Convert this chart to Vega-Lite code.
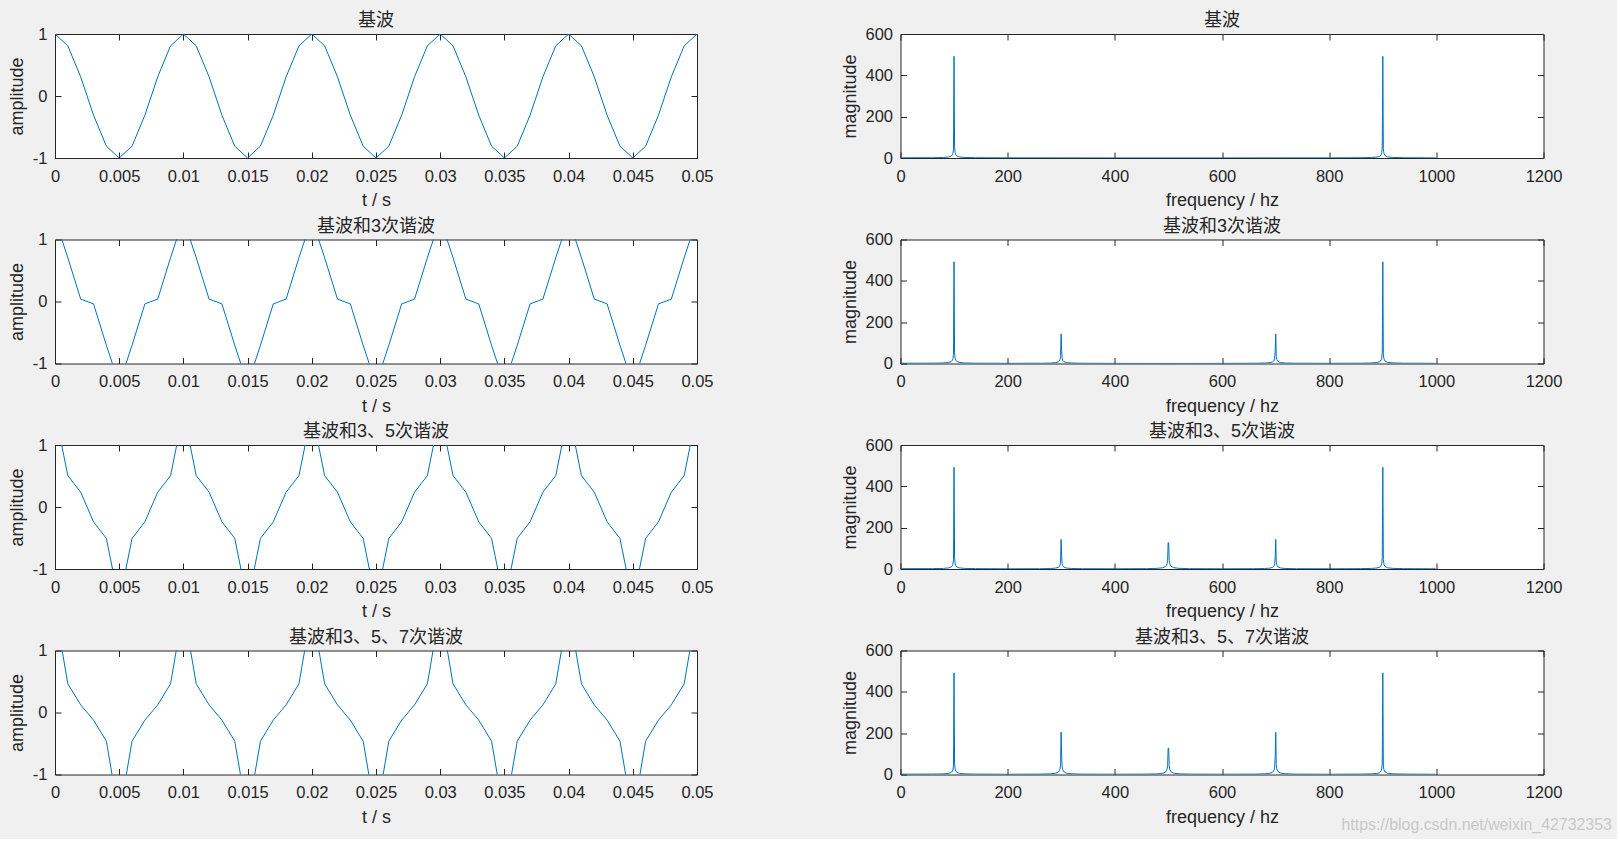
{
  "$schema": "https://vega.github.io/schema/vega-lite/v6.json",
  "background": "#f0f0f0",
  "padding": {"left": 8, "top": 11, "right": 5, "bottom": 5},
  "bounds": "flush",
  "columns": 2,
  "spacing": {"row": 81.5, "column": 203.5},
  "title": {"text": "https://blog.csdn.net/weixin_42732353", "orient": "bottom", "anchor": "end", "frame": "bounds", "font": "Liberation Sans", "fontSize": 15.9, "fontWeight": "normal", "color": "#c8c8c8", "offset": -9.3, "dx": 49.5},
  "datasets": {
    "wave": [
      {"t": 0, "a1": 1, "a2": 1.333, "a3": 1.533, "a4": 1.676},
      {"t": 0.001, "a1": 0.809, "a2": 0.706, "a3": 0.506, "a4": 0.462},
      {"t": 0.002, "a1": 0.309, "a2": 0.039, "a3": 0.239, "a4": 0.123},
      {"t": 0.003, "a1": -0.309, "a2": -0.039, "a3": -0.239, "a4": -0.123},
      {"t": 0.004, "a1": -0.809, "a2": -0.706, "a3": -0.506, "a4": -0.462},
      {"t": 0.005, "a1": -1, "a2": -1.333, "a3": -1.533, "a4": -1.676},
      {"t": 0.006, "a1": -0.809, "a2": -0.706, "a3": -0.506, "a4": -0.462},
      {"t": 0.007, "a1": -0.309, "a2": -0.039, "a3": -0.239, "a4": -0.123},
      {"t": 0.008, "a1": 0.309, "a2": 0.039, "a3": 0.239, "a4": 0.123},
      {"t": 0.009, "a1": 0.809, "a2": 0.706, "a3": 0.506, "a4": 0.462},
      {"t": 0.010, "a1": 1, "a2": 1.333, "a3": 1.533, "a4": 1.676},
      {"t": 0.011, "a1": 0.809, "a2": 0.706, "a3": 0.506, "a4": 0.462},
      {"t": 0.012, "a1": 0.309, "a2": 0.039, "a3": 0.239, "a4": 0.123},
      {"t": 0.013, "a1": -0.309, "a2": -0.039, "a3": -0.239, "a4": -0.123},
      {"t": 0.014, "a1": -0.809, "a2": -0.706, "a3": -0.506, "a4": -0.462},
      {"t": 0.015, "a1": -1, "a2": -1.333, "a3": -1.533, "a4": -1.676},
      {"t": 0.016, "a1": -0.809, "a2": -0.706, "a3": -0.506, "a4": -0.462},
      {"t": 0.017, "a1": -0.309, "a2": -0.039, "a3": -0.239, "a4": -0.123},
      {"t": 0.018, "a1": 0.309, "a2": 0.039, "a3": 0.239, "a4": 0.123},
      {"t": 0.019, "a1": 0.809, "a2": 0.706, "a3": 0.506, "a4": 0.462},
      {"t": 0.020, "a1": 1, "a2": 1.333, "a3": 1.533, "a4": 1.676},
      {"t": 0.021, "a1": 0.809, "a2": 0.706, "a3": 0.506, "a4": 0.462},
      {"t": 0.022, "a1": 0.309, "a2": 0.039, "a3": 0.239, "a4": 0.123},
      {"t": 0.023, "a1": -0.309, "a2": -0.039, "a3": -0.239, "a4": -0.123},
      {"t": 0.024, "a1": -0.809, "a2": -0.706, "a3": -0.506, "a4": -0.462},
      {"t": 0.025, "a1": -1, "a2": -1.333, "a3": -1.533, "a4": -1.676},
      {"t": 0.026, "a1": -0.809, "a2": -0.706, "a3": -0.506, "a4": -0.462},
      {"t": 0.027, "a1": -0.309, "a2": -0.039, "a3": -0.239, "a4": -0.123},
      {"t": 0.028, "a1": 0.309, "a2": 0.039, "a3": 0.239, "a4": 0.123},
      {"t": 0.029, "a1": 0.809, "a2": 0.706, "a3": 0.506, "a4": 0.462},
      {"t": 0.030, "a1": 1, "a2": 1.333, "a3": 1.533, "a4": 1.676},
      {"t": 0.031, "a1": 0.809, "a2": 0.706, "a3": 0.506, "a4": 0.462},
      {"t": 0.032, "a1": 0.309, "a2": 0.039, "a3": 0.239, "a4": 0.123},
      {"t": 0.033, "a1": -0.309, "a2": -0.039, "a3": -0.239, "a4": -0.123},
      {"t": 0.034, "a1": -0.809, "a2": -0.706, "a3": -0.506, "a4": -0.462},
      {"t": 0.035, "a1": -1, "a2": -1.333, "a3": -1.533, "a4": -1.676},
      {"t": 0.036, "a1": -0.809, "a2": -0.706, "a3": -0.506, "a4": -0.462},
      {"t": 0.037, "a1": -0.309, "a2": -0.039, "a3": -0.239, "a4": -0.123},
      {"t": 0.038, "a1": 0.309, "a2": 0.039, "a3": 0.239, "a4": 0.123},
      {"t": 0.039, "a1": 0.809, "a2": 0.706, "a3": 0.506, "a4": 0.462},
      {"t": 0.040, "a1": 1, "a2": 1.333, "a3": 1.533, "a4": 1.676},
      {"t": 0.041, "a1": 0.809, "a2": 0.706, "a3": 0.506, "a4": 0.462},
      {"t": 0.042, "a1": 0.309, "a2": 0.039, "a3": 0.239, "a4": 0.123},
      {"t": 0.043, "a1": -0.309, "a2": -0.039, "a3": -0.239, "a4": -0.123},
      {"t": 0.044, "a1": -0.809, "a2": -0.706, "a3": -0.506, "a4": -0.462},
      {"t": 0.045, "a1": -1, "a2": -1.333, "a3": -1.533, "a4": -1.676},
      {"t": 0.046, "a1": -0.809, "a2": -0.706, "a3": -0.506, "a4": -0.462},
      {"t": 0.047, "a1": -0.309, "a2": -0.039, "a3": -0.239, "a4": -0.123},
      {"t": 0.048, "a1": 0.309, "a2": 0.039, "a3": 0.239, "a4": 0.123},
      {"t": 0.049, "a1": 0.809, "a2": 0.706, "a3": 0.506, "a4": 0.462},
      {"t": 0.050, "a1": 1, "a2": 1.333, "a3": 1.533, "a4": 1.676}
    ],
    "spec1": [
      {"f": 0, "m": 1.0}, {"f": 59.9, "m": 1.3}, {"f": 79.9, "m": 2.4}, {"f": 89.9, "m": 4.9}, {"f": 94.9, "m": 9.6}, {"f": 96.9, "m": 15.9}, {"f": 97.9, "m": 23.4}, {"f": 98.9, "m": 44.7}, {"f": 99.9, "m": 492}, {"f": 100.9, "m": 54.7}, {"f": 101.9, "m": 25.9}, {"f": 102.9, "m": 17.0}, {"f": 104.9, "m": 10.0}, {"f": 109.9, "m": 5.0}, {"f": 119.9, "m": 2.5}, {"f": 139.9, "m": 1.3},
      {"f": 199.8, "m": 0.6}, {"f": 399.6, "m": 0.3}, {"f": 599.4, "m": 0.3}, {"f": 799.2, "m": 0.6},
      {"f": 859.1, "m": 1.3}, {"f": 879.1, "m": 2.4}, {"f": 889.1, "m": 4.5}, {"f": 894.1, "m": 8.3}, {"f": 896.1, "m": 12.6}, {"f": 897.1, "m": 17.0}, {"f": 898.1, "m": 25.9}, {"f": 899.1, "m": 54.7}, {"f": 900.1, "m": 492}, {"f": 901.1, "m": 44.7}, {"f": 902.1, "m": 23.4}, {"f": 904.1, "m": 12.0}, {"f": 909.1, "m": 5.4}, {"f": 919.1, "m": 2.6}, {"f": 939.1, "m": 1.3}, {"f": 999.0, "m": 0.5}
    ],
    "spec2": [
      {"f": 0, "m": 1.2}, {"f": 59.9, "m": 1.6}, {"f": 79.9, "m": 2.6}, {"f": 89.9, "m": 5.1}, {"f": 94.9, "m": 9.8}, {"f": 96.9, "m": 16.1}, {"f": 97.9, "m": 23.6}, {"f": 98.9, "m": 44.9}, {"f": 99.9, "m": 492}, {"f": 100.9, "m": 54.9}, {"f": 101.9, "m": 26.1}, {"f": 102.9, "m": 17.2}, {"f": 104.9, "m": 10.2}, {"f": 109.9, "m": 5.2}, {"f": 119.9, "m": 2.7}, {"f": 139.9, "m": 1.5},
      {"f": 199.8, "m": 0.9},
      {"f": 259.7, "m": 1.1}, {"f": 279.7, "m": 2.1}, {"f": 289.7, "m": 4.2}, {"f": 294.7, "m": 8.1}, {"f": 296.7, "m": 13.0}, {"f": 297.7, "m": 18.7}, {"f": 298.7, "m": 33.0}, {"f": 299.7, "m": 143.2}, {"f": 300.7, "m": 61.4}, {"f": 301.7, "m": 25.3}, {"f": 302.7, "m": 15.9}, {"f": 304.7, "m": 9.1}, {"f": 309.7, "m": 4.4}, {"f": 319.7, "m": 2.2}, {"f": 339.7, "m": 1.1},
      {"f": 399.6, "m": 0.6}, {"f": 499.5, "m": 0.4}, {"f": 599.4, "m": 0.6},
      {"f": 659.3, "m": 1.1}, {"f": 679.3, "m": 2.1}, {"f": 689.3, "m": 4.0}, {"f": 694.3, "m": 7.5}, {"f": 696.3, "m": 11.6}, {"f": 697.3, "m": 15.9}, {"f": 698.3, "m": 25.3}, {"f": 699.3, "m": 61.4}, {"f": 700.3, "m": 143.2}, {"f": 701.3, "m": 33.0}, {"f": 702.3, "m": 18.7}, {"f": 704.3, "m": 10.0}, {"f": 709.3, "m": 4.6}, {"f": 719.3, "m": 2.2}, {"f": 739.3, "m": 1.1},
      {"f": 799.2, "m": 0.9},
      {"f": 859.1, "m": 1.5}, {"f": 879.1, "m": 2.6}, {"f": 889.1, "m": 4.7}, {"f": 894.1, "m": 8.5}, {"f": 896.1, "m": 12.8}, {"f": 897.1, "m": 17.2}, {"f": 898.1, "m": 26.1}, {"f": 899.1, "m": 54.9}, {"f": 900.1, "m": 492}, {"f": 901.1, "m": 44.9}, {"f": 902.1, "m": 23.6}, {"f": 904.1, "m": 12.2}, {"f": 909.1, "m": 5.6}, {"f": 919.1, "m": 2.8}, {"f": 939.1, "m": 1.5}, {"f": 999.0, "m": 0.7}
    ],
    "spec3": [
      {"f": 0, "m": 1.4}, {"f": 59.9, "m": 1.8}, {"f": 79.9, "m": 2.8}, {"f": 89.9, "m": 5.3}, {"f": 94.9, "m": 10.0}, {"f": 96.9, "m": 16.3}, {"f": 97.9, "m": 23.8}, {"f": 98.9, "m": 45.1}, {"f": 99.9, "m": 492}, {"f": 100.9, "m": 55.1}, {"f": 101.9, "m": 26.3}, {"f": 102.9, "m": 17.4}, {"f": 104.9, "m": 10.4}, {"f": 109.9, "m": 5.4}, {"f": 119.9, "m": 2.9}, {"f": 139.9, "m": 1.7},
      {"f": 199.8, "m": 1.0},
      {"f": 259.7, "m": 1.3}, {"f": 279.7, "m": 2.3}, {"f": 289.7, "m": 4.4}, {"f": 294.7, "m": 8.3}, {"f": 296.7, "m": 13.2}, {"f": 297.7, "m": 18.9}, {"f": 298.7, "m": 33.2}, {"f": 299.7, "m": 143.2}, {"f": 300.7, "m": 61.6}, {"f": 301.7, "m": 25.5}, {"f": 302.7, "m": 16.1}, {"f": 304.7, "m": 9.3}, {"f": 309.7, "m": 4.6}, {"f": 319.7, "m": 2.4}, {"f": 339.7, "m": 1.4},
      {"f": 399.6, "m": 1.1},
      {"f": 459.5, "m": 1.7}, {"f": 479.5, "m": 3.2}, {"f": 489.5, "m": 6.1}, {"f": 494.5, "m": 11.6}, {"f": 496.5, "m": 18.2}, {"f": 497.5, "m": 25.5}, {"f": 498.5, "m": 42.5}, {"f": 499.5, "m": 127.4}, {"f": 500.5, "m": 127.4}, {"f": 501.5, "m": 42.5}, {"f": 502.5, "m": 25.5}, {"f": 504.5, "m": 14.2}, {"f": 509.5, "m": 6.7}, {"f": 519.5, "m": 3.3}, {"f": 539.5, "m": 1.7},
      {"f": 599.4, "m": 1.1},
      {"f": 659.3, "m": 1.4}, {"f": 679.3, "m": 2.3}, {"f": 689.3, "m": 4.2}, {"f": 694.3, "m": 7.7}, {"f": 696.3, "m": 11.8}, {"f": 697.3, "m": 16.1}, {"f": 698.3, "m": 25.5}, {"f": 699.3, "m": 61.6}, {"f": 700.3, "m": 143.2}, {"f": 701.3, "m": 33.2}, {"f": 702.3, "m": 18.9}, {"f": 704.3, "m": 10.2}, {"f": 709.3, "m": 4.8}, {"f": 719.3, "m": 2.4}, {"f": 739.3, "m": 1.3},
      {"f": 799.2, "m": 1.0},
      {"f": 859.1, "m": 1.7}, {"f": 879.1, "m": 2.8}, {"f": 889.1, "m": 4.9}, {"f": 894.1, "m": 8.7}, {"f": 896.1, "m": 13.0}, {"f": 897.1, "m": 17.4}, {"f": 898.1, "m": 26.3}, {"f": 899.1, "m": 55.1}, {"f": 900.1, "m": 492}, {"f": 901.1, "m": 45.1}, {"f": 902.1, "m": 23.8}, {"f": 904.1, "m": 12.4}, {"f": 909.1, "m": 5.8}, {"f": 919.1, "m": 3.0}, {"f": 939.1, "m": 1.7}, {"f": 999.0, "m": 0.9}
    ],
    "spec4": [
      {"f": 0, "m": 1.6}, {"f": 59.9, "m": 2.0}, {"f": 79.9, "m": 3.0}, {"f": 89.9, "m": 5.5}, {"f": 94.9, "m": 10.2}, {"f": 96.9, "m": 16.5}, {"f": 97.9, "m": 24.0}, {"f": 98.9, "m": 45.3}, {"f": 99.9, "m": 492}, {"f": 100.9, "m": 55.3}, {"f": 101.9, "m": 26.5}, {"f": 102.9, "m": 17.6}, {"f": 104.9, "m": 10.6}, {"f": 109.9, "m": 5.6}, {"f": 119.9, "m": 3.1}, {"f": 139.9, "m": 1.9},
      {"f": 199.8, "m": 1.2},
      {"f": 259.7, "m": 1.8}, {"f": 279.7, "m": 3.2}, {"f": 289.7, "m": 6.2}, {"f": 294.7, "m": 11.8}, {"f": 296.7, "m": 18.8}, {"f": 297.7, "m": 26.9}, {"f": 298.7, "m": 47.3}, {"f": 299.7, "m": 204.5}, {"f": 300.7, "m": 87.9}, {"f": 301.7, "m": 36.3}, {"f": 302.7, "m": 22.9}, {"f": 304.7, "m": 13.2}, {"f": 309.7, "m": 6.5}, {"f": 319.7, "m": 3.3}, {"f": 339.7, "m": 1.8},
      {"f": 399.6, "m": 1.3},
      {"f": 459.5, "m": 1.8}, {"f": 479.5, "m": 3.3}, {"f": 489.5, "m": 6.2}, {"f": 494.5, "m": 11.7}, {"f": 496.5, "m": 18.3}, {"f": 497.5, "m": 25.6}, {"f": 498.5, "m": 42.6}, {"f": 499.5, "m": 127.4}, {"f": 500.5, "m": 127.4}, {"f": 501.5, "m": 42.6}, {"f": 502.5, "m": 25.6}, {"f": 504.5, "m": 14.3}, {"f": 509.5, "m": 6.8}, {"f": 519.5, "m": 3.4}, {"f": 539.5, "m": 1.8},
      {"f": 599.4, "m": 1.3},
      {"f": 659.3, "m": 1.8}, {"f": 679.3, "m": 3.2}, {"f": 689.3, "m": 5.9}, {"f": 694.3, "m": 10.9}, {"f": 696.3, "m": 16.8}, {"f": 697.3, "m": 22.9}, {"f": 698.3, "m": 36.3}, {"f": 699.3, "m": 87.9}, {"f": 700.3, "m": 204.5}, {"f": 701.3, "m": 47.3}, {"f": 702.3, "m": 26.9}, {"f": 704.3, "m": 14.5}, {"f": 709.3, "m": 6.8}, {"f": 719.3, "m": 3.3}, {"f": 739.3, "m": 1.8},
      {"f": 799.2, "m": 1.2},
      {"f": 859.1, "m": 1.9}, {"f": 879.1, "m": 3.0}, {"f": 889.1, "m": 5.1}, {"f": 894.1, "m": 8.9}, {"f": 896.1, "m": 13.2}, {"f": 897.1, "m": 17.6}, {"f": 898.1, "m": 26.5}, {"f": 899.1, "m": 55.3}, {"f": 900.1, "m": 492}, {"f": 901.1, "m": 45.3}, {"f": 902.1, "m": 24.0}, {"f": 904.1, "m": 12.6}, {"f": 909.1, "m": 6.0}, {"f": 919.1, "m": 3.2}, {"f": 939.1, "m": 1.9}, {"f": 999.0, "m": 1.1}
    ]
  },
  "concat": [
    {
      "width": 642, "height": 124, "title": "基波", "data": {"name": "wave"},
      "layer": [
        {"mark": {"type": "line", "clip": true, "color": "#0072BD", "strokeWidth": 1},
         "encoding": {
           "x": {"field": "t", "type": "quantitative", "scale": {"domain": [0, 0.05], "nice": false, "zero": false}, "axis": {"title": "t / s", "values": [0, 0.005, 0.01, 0.015, 0.02, 0.025, 0.03, 0.035, 0.04, 0.045, 0.05], "format": "~g"}},
           "y": {"field": "a1", "type": "quantitative", "scale": {"domain": [-1, 1], "nice": false, "zero": false}, "axis": {"title": "amplitude", "values": [-1, 0, 1], "format": "~g", "labelExpr": "datum.value < 0 ? '-1' : datum.label"}}}},
        {"mark": {"type": "line", "clip": true, "opacity": 0},
         "encoding": {
           "x": {"field": "t", "type": "quantitative", "axis": {"orient": "top", "labels": false, "title": null, "values": [0, 0.005, 0.01, 0.015, 0.02, 0.025, 0.03, 0.035, 0.04, 0.045, 0.05]}},
           "y": {"field": "a1", "type": "quantitative", "axis": {"orient": "right", "labels": false, "title": null, "values": [-1, 0, 1]}}}}
      ],
      "resolve": {"axis": {"x": "independent", "y": "independent"}}
    },
    {
      "width": 643, "height": 124, "title": "基波", "data": {"name": "spec1"},
      "layer": [
        {"mark": {"type": "line", "clip": true, "color": "#0072BD", "strokeWidth": 1},
         "encoding": {
           "x": {"field": "f", "type": "quantitative", "scale": {"domain": [0, 1200], "nice": false}, "axis": {"title": "frequency / hz", "values": [0, 200, 400, 600, 800, 1000, 1200], "format": "d"}},
           "y": {"field": "m", "type": "quantitative", "scale": {"domain": [0, 600], "nice": false}, "axis": {"title": "magnitude", "values": [0, 200, 400, 600], "format": "d"}}}},
        {"mark": {"type": "line", "clip": true, "opacity": 0},
         "encoding": {
           "x": {"field": "f", "type": "quantitative", "axis": {"orient": "top", "labels": false, "title": null, "values": [0, 200, 400, 600, 800, 1000, 1200]}},
           "y": {"field": "m", "type": "quantitative", "axis": {"orient": "right", "labels": false, "title": null, "values": [0, 200, 400, 600]}}}}
      ],
      "resolve": {"axis": {"x": "independent", "y": "independent"}}
    },
    {
      "width": 642, "height": 124, "title": "基波和3次谐波", "data": {"name": "wave"},
      "layer": [
        {"mark": {"type": "line", "clip": true, "color": "#0072BD", "strokeWidth": 1},
         "encoding": {
           "x": {"field": "t", "type": "quantitative", "scale": {"domain": [0, 0.05], "nice": false, "zero": false}, "axis": {"title": "t / s", "values": [0, 0.005, 0.01, 0.015, 0.02, 0.025, 0.03, 0.035, 0.04, 0.045, 0.05], "format": "~g"}},
           "y": {"field": "a2", "type": "quantitative", "scale": {"domain": [-1, 1], "nice": false, "zero": false}, "axis": {"title": "amplitude", "values": [-1, 0, 1], "format": "~g", "labelExpr": "datum.value < 0 ? '-1' : datum.label"}}}},
        {"mark": {"type": "line", "clip": true, "opacity": 0},
         "encoding": {
           "x": {"field": "t", "type": "quantitative", "axis": {"orient": "top", "labels": false, "title": null, "values": [0, 0.005, 0.01, 0.015, 0.02, 0.025, 0.03, 0.035, 0.04, 0.045, 0.05]}},
           "y": {"field": "a2", "type": "quantitative", "axis": {"orient": "right", "labels": false, "title": null, "values": [-1, 0, 1]}}}}
      ],
      "resolve": {"axis": {"x": "independent", "y": "independent"}}
    },
    {
      "width": 643, "height": 124, "title": "基波和3次谐波", "data": {"name": "spec2"},
      "layer": [
        {"mark": {"type": "line", "clip": true, "color": "#0072BD", "strokeWidth": 1},
         "encoding": {
           "x": {"field": "f", "type": "quantitative", "scale": {"domain": [0, 1200], "nice": false}, "axis": {"title": "frequency / hz", "values": [0, 200, 400, 600, 800, 1000, 1200], "format": "d"}},
           "y": {"field": "m", "type": "quantitative", "scale": {"domain": [0, 600], "nice": false}, "axis": {"title": "magnitude", "values": [0, 200, 400, 600], "format": "d"}}}},
        {"mark": {"type": "line", "clip": true, "opacity": 0},
         "encoding": {
           "x": {"field": "f", "type": "quantitative", "axis": {"orient": "top", "labels": false, "title": null, "values": [0, 200, 400, 600, 800, 1000, 1200]}},
           "y": {"field": "m", "type": "quantitative", "axis": {"orient": "right", "labels": false, "title": null, "values": [0, 200, 400, 600]}}}}
      ],
      "resolve": {"axis": {"x": "independent", "y": "independent"}}
    },
    {
      "width": 642, "height": 124, "title": "基波和3、5次谐波", "data": {"name": "wave"},
      "layer": [
        {"mark": {"type": "line", "clip": true, "color": "#0072BD", "strokeWidth": 1},
         "encoding": {
           "x": {"field": "t", "type": "quantitative", "scale": {"domain": [0, 0.05], "nice": false, "zero": false}, "axis": {"title": "t / s", "values": [0, 0.005, 0.01, 0.015, 0.02, 0.025, 0.03, 0.035, 0.04, 0.045, 0.05], "format": "~g"}},
           "y": {"field": "a3", "type": "quantitative", "scale": {"domain": [-1, 1], "nice": false, "zero": false}, "axis": {"title": "amplitude", "values": [-1, 0, 1], "format": "~g", "labelExpr": "datum.value < 0 ? '-1' : datum.label"}}}},
        {"mark": {"type": "line", "clip": true, "opacity": 0},
         "encoding": {
           "x": {"field": "t", "type": "quantitative", "axis": {"orient": "top", "labels": false, "title": null, "values": [0, 0.005, 0.01, 0.015, 0.02, 0.025, 0.03, 0.035, 0.04, 0.045, 0.05]}},
           "y": {"field": "a3", "type": "quantitative", "axis": {"orient": "right", "labels": false, "title": null, "values": [-1, 0, 1]}}}}
      ],
      "resolve": {"axis": {"x": "independent", "y": "independent"}}
    },
    {
      "width": 643, "height": 124, "title": "基波和3、5次谐波", "data": {"name": "spec3"},
      "layer": [
        {"mark": {"type": "line", "clip": true, "color": "#0072BD", "strokeWidth": 1},
         "encoding": {
           "x": {"field": "f", "type": "quantitative", "scale": {"domain": [0, 1200], "nice": false}, "axis": {"title": "frequency / hz", "values": [0, 200, 400, 600, 800, 1000, 1200], "format": "d"}},
           "y": {"field": "m", "type": "quantitative", "scale": {"domain": [0, 600], "nice": false}, "axis": {"title": "magnitude", "values": [0, 200, 400, 600], "format": "d"}}}},
        {"mark": {"type": "line", "clip": true, "opacity": 0},
         "encoding": {
           "x": {"field": "f", "type": "quantitative", "axis": {"orient": "top", "labels": false, "title": null, "values": [0, 200, 400, 600, 800, 1000, 1200]}},
           "y": {"field": "m", "type": "quantitative", "axis": {"orient": "right", "labels": false, "title": null, "values": [0, 200, 400, 600]}}}}
      ],
      "resolve": {"axis": {"x": "independent", "y": "independent"}}
    },
    {
      "width": 642, "height": 124, "title": "基波和3、5、7次谐波", "data": {"name": "wave"},
      "layer": [
        {"mark": {"type": "line", "clip": true, "color": "#0072BD", "strokeWidth": 1},
         "encoding": {
           "x": {"field": "t", "type": "quantitative", "scale": {"domain": [0, 0.05], "nice": false, "zero": false}, "axis": {"title": "t / s", "values": [0, 0.005, 0.01, 0.015, 0.02, 0.025, 0.03, 0.035, 0.04, 0.045, 0.05], "format": "~g"}},
           "y": {"field": "a4", "type": "quantitative", "scale": {"domain": [-1, 1], "nice": false, "zero": false}, "axis": {"title": "amplitude", "values": [-1, 0, 1], "format": "~g", "labelExpr": "datum.value < 0 ? '-1' : datum.label"}}}},
        {"mark": {"type": "line", "clip": true, "opacity": 0},
         "encoding": {
           "x": {"field": "t", "type": "quantitative", "axis": {"orient": "top", "labels": false, "title": null, "values": [0, 0.005, 0.01, 0.015, 0.02, 0.025, 0.03, 0.035, 0.04, 0.045, 0.05]}},
           "y": {"field": "a4", "type": "quantitative", "axis": {"orient": "right", "labels": false, "title": null, "values": [-1, 0, 1]}}}}
      ],
      "resolve": {"axis": {"x": "independent", "y": "independent"}}
    },
    {
      "width": 643, "height": 124, "title": "基波和3、5、7次谐波", "data": {"name": "spec4"},
      "layer": [
        {"mark": {"type": "line", "clip": true, "color": "#0072BD", "strokeWidth": 1},
         "encoding": {
           "x": {"field": "f", "type": "quantitative", "scale": {"domain": [0, 1200], "nice": false}, "axis": {"title": "frequency / hz", "values": [0, 200, 400, 600, 800, 1000, 1200], "format": "d"}},
           "y": {"field": "m", "type": "quantitative", "scale": {"domain": [0, 600], "nice": false}, "axis": {"title": "magnitude", "values": [0, 200, 400, 600], "format": "d"}}}},
        {"mark": {"type": "line", "clip": true, "opacity": 0},
         "encoding": {
           "x": {"field": "f", "type": "quantitative", "axis": {"orient": "top", "labels": false, "title": null, "values": [0, 200, 400, 600, 800, 1000, 1200]}},
           "y": {"field": "m", "type": "quantitative", "axis": {"orient": "right", "labels": false, "title": null, "values": [0, 200, 400, 600]}}}}
      ],
      "resolve": {"axis": {"x": "independent", "y": "independent"}}
    }
  ],
  "config": {
    "view": {"fill": "#ffffff", "stroke": "#262626", "strokeWidth": 1},
    "title": {"font": "Liberation Sans, Noto Sans CJK SC", "fontSize": 18, "fontWeight": "normal", "color": "#262626", "offset": -4.4, "frame": "group", "anchor": "middle"},
    "axis": {"tickSize": -6, "tickColor": "#262626", "tickWidth": 1, "domain": false, "grid": false, "minExtent": 0, "labelFont": "Liberation Sans", "labelFontSize": 16.5, "labelColor": "#262626", "labelFlush": false, "labelOverlap": false, "titleFont": "Liberation Sans", "titleFontSize": 18, "titleFontWeight": "normal", "titleColor": "#262626"},
    "axisBottom": {"labelPadding": 16, "titlePadding": 7},
    "axisLeft": {"labelPadding": 14, "titlePadding": 5.5},
    "axisTop": {"labelPadding": 0},
    "axisRight": {"labelPadding": 0}
  }
}
